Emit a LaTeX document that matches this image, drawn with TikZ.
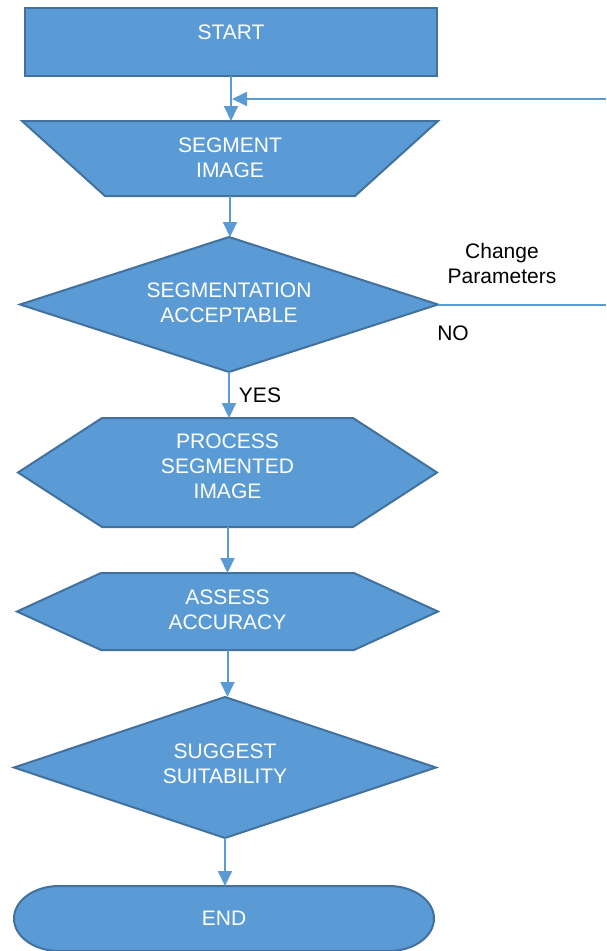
\documentclass[tikz,border=0pt]{standalone}
\usepackage{fontspec}
\setmainfont{Liberation Sans}
\usetikzlibrary{arrows.meta,shapes.geometric,backgrounds}
\definecolor{fillb}{HTML}{5B9BD5}
\definecolor{edgeb}{HTML}{41719C}
\begin{document}
\begin{tikzpicture}[x=1pt,y=-1pt,
  shp/.style={draw=edgeb,fill=fillb,line width=2pt},
  box/.style={inner sep=0pt,outer sep=0pt},
  conn/.style={draw=fillb,line width=2pt},
  arr/.style={conn,-{Triangle[length=15pt,width=14pt]}},
  txt/.style={text=white,font=\fontsize{21}{25}\selectfont,align=center,inner sep=0pt},
  lab/.style={text=black,font=\fontsize{21}{25}\selectfont,align=center,inner sep=0pt}]
\useasboundingbox (0,0) rectangle (606,951);
% nodes
\node[box,shp,minimum width=412pt,minimum height=68pt,label={[txt,yshift=10pt]center:START}] (start) at (231,42) {};
\node[box,minimum width=416pt,minimum height=75pt,label={[txt,yshift=1pt]center:SEGMENT\\IMAGE}] (seg) at (230,158.5) {};
\node[box,shp,diamond,minimum width=418pt,minimum height=135pt,label={[txt,yshift=2pt]center:SEGMENTATION\\ACCEPTABLE}] (dec) at (229,304.5) {};
\node[box,minimum width=419pt,minimum height=109pt,label={[txt,yshift=6.5pt]center:PROCESS\\SEGMENTED\\IMAGE}] (hexa) at (227.5,472.5) {};
\node[box,minimum width=421pt,minimum height=77pt,label={[txt,yshift=2pt]center:ASSESS\\ACCURACY}] (hexb) at (227.5,611.5) {};
\node[box,shp,diamond,minimum width=422pt,minimum height=141pt,label={[txt,yshift=4pt]center:SUGGEST\\SUITABILITY}] (decb) at (225,767.5) {};
\node[box,minimum width=420pt,minimum height=65pt,label={[txt]center:END}] (endn) at (224,918.5) {};
% custom outlines behind the texts
\begin{pgfonlayer}{background}
\draw[shp] (seg.north west) -- (seg.north east) -- ([xshift=-83pt]seg.south east) -- ([xshift=83pt]seg.south west) -- cycle;
\draw[shp] ([xshift=84pt]hexa.north west) -- ([xshift=-84pt]hexa.north east) -- (hexa.east) -- ([xshift=-84pt]hexa.south east) -- ([xshift=84pt]hexa.south west) -- (hexa.west) -- cycle;
\draw[shp] ([xshift=84pt]hexb.north west) -- ([xshift=-84pt]hexb.north east) -- (hexb.east) -- ([xshift=-84pt]hexb.south east) -- ([xshift=84pt]hexb.south west) -- (hexb.west) -- cycle;
\draw[shp] ([xshift=45pt]endn.north west) -- ([xshift=-45pt]endn.north east) arc[start angle=90,end angle=-90,x radius=45pt,y radius=32.5pt] -- ([xshift=45pt]endn.south west) arc[start angle=270,end angle=90,x radius=45pt,y radius=32.5pt] -- cycle;
\end{pgfonlayer}
% side labels
\node[lab] (chg) at (502,263.5) {Change\\Parameters};
\node[lab] (no) at (453,333) {NO};
\node[lab] (yes) at (260,395) {YES};
% connectors
\coordinate (rr) at (606,99);
\coordinate (r1) at (dec.east -| rr);
\coordinate (r2) at (rr);
\draw[arr] (start.south) -- (start.south |- seg.north);
\draw[arr] (seg.south) -- (seg.south |- dec.north);
\draw[arr] (dec.south) -- (dec.south |- hexa.north);
\draw[arr] (hexa.south) -- (hexa.south |- hexb.north);
\draw[arr] (hexb.south) -- (hexb.south |- decb.north);
\draw[arr] (decb.south) -- (decb.south |- endn.north);
\draw[conn] (dec.east) -- (r1);
\draw[arr] (r2) -- ([xshift=1pt]start.south |- r2);
\end{tikzpicture}
\end{document}
